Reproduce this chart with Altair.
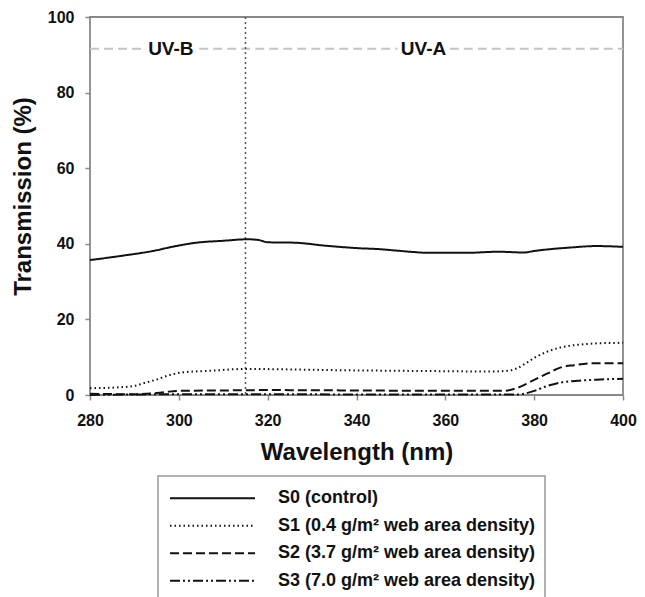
import altair as alt
import pandas as pd

series_names = [
    "S0 (control)",
    "S1 (0.4 g/m² web area density)",
    "S2 (3.7 g/m² web area density)",
    "S3 (7.0 g/m² web area density)",
]

wl_s0 = [280, 287, 294.6, 298.5, 304, 310, 315.5, 318, 320, 326, 333, 341, 345, 349, 357, 364.5, 372, 377.7, 380, 388, 394, 400]
t_s0 = [35.7, 36.8, 38.2, 39.2, 40.3, 40.8, 41.2, 41.0, 40.4, 40.3, 39.5, 38.8, 38.6, 38.2, 37.6, 37.6, 37.9, 37.7, 38.1, 39.0, 39.4, 39.2]

wl_s1 = [280, 286, 290, 292, 295, 298, 301, 307, 315, 323, 340, 350, 360, 370, 374, 376, 378, 380, 383, 386, 390, 395, 400]
t_s1 = [1.8, 2.0, 2.4, 3.1, 4.1, 5.3, 6.0, 6.4, 6.9, 6.8, 6.5, 6.4, 6.3, 6.2, 6.4, 7.0, 8.3, 9.8, 11.5, 12.6, 13.3, 13.7, 13.8]

wl_s2 = [280, 290, 294, 297, 300, 310, 320, 340, 360, 373, 376, 378, 380, 383, 386, 389, 393, 400]
t_s2 = [0.3, 0.2, 0.4, 0.8, 1.1, 1.2, 1.3, 1.2, 1.1, 1.1, 1.8, 2.8, 4.0, 5.7, 7.3, 7.9, 8.4, 8.4]

wl_s3 = [280, 300, 320, 350, 376, 378, 380, 383, 386, 390, 395, 400]
t_s3 = [0.0, 0.2, 0.2, 0.1, 0.1, 0.4, 1.1, 2.4, 3.3, 3.8, 4.1, 4.3]

region_labels = ["UV-B", "UV-A"]
region_label_wl = [298.2, 355.1]
guide_level = 91.6
guide_start = [280, 304.6, 361.0]
guide_end = [291.7, 349.2, 400]
boundary_wl = [315]

x_ticks = [280, 300, 320, 340, 360, 380, 400]
y_ticks = [0, 20, 40, 60, 80, 100]

FONT = "Liberation Sans"

rows = []
for name, wl, tr in zip(series_names, [wl_s0, wl_s1, wl_s2, wl_s3], [t_s0, t_s1, t_s2, t_s3]):
    for w, t in zip(wl, tr):
        rows.append({"series": name, "wl": w, "t": t})
df = pd.DataFrame(rows)

guide_df = pd.DataFrame({"x": guide_start, "x2": guide_end, "y": [guide_level] * len(guide_start)})
label_df = pd.DataFrame({"x": region_label_wl, "y": [guide_level] * 2, "label": region_labels})
boundary_df = pd.DataFrame({"x": boundary_wl})

xscale = alt.Scale(domain=[280, 400], nice=False, zero=False)
yscale = alt.Scale(domain=[0, 100], nice=False)

x_axis = alt.Axis(
    values=x_ticks, format="d", grid=False, domain=False, labelFlush=False,
    labelFont=FONT, labelFontSize=16, labelFontWeight="bold", labelColor="#111",
    tickSize=5, tickColor="#888", tickWidth=1.5, labelPadding=12,
    title="Wavelength (nm)", titleFont=FONT, titleFontSize=24, titleFontWeight="bold",
    titleColor="#111", titleY=57, titleBaseline="middle",
)
y_axis = alt.Axis(
    values=y_ticks, format="d", grid=False, domain=False, labelFlush=False,
    labelFont=FONT, labelFontSize=16, labelFontWeight="bold", labelColor="#111",
    tickSize=5, tickColor="#888", tickWidth=1.5, labelPadding=11,
    title="Transmission (%)", titleFont=FONT, titleFontSize=24, titleFontWeight="bold",
    titleColor="#111", titleX=-67, titleY=179, titleAngle=270,
    titleBaseline="middle", titleAlign="center",
)

guides = alt.Chart(guide_df).mark_rule(color="#c4c4c4", strokeWidth=2, strokeDash=[9, 5]).encode(
    x=alt.X("x:Q", scale=xscale, axis=x_axis),
    x2="x2:Q",
    y=alt.Y("y:Q", scale=yscale, axis=y_axis),
)

labels = alt.Chart(label_df).mark_text(
    font=FONT, fontSize=19, fontWeight="bold", color="#111", align="center", baseline="middle"
).encode(x="x:Q", y="y:Q", text="label:N")

boundary = alt.Chart(boundary_df).mark_rule(color="#555", strokeWidth=1.5, strokeDash=[2, 3]).encode(
    x="x:Q"
)

lines = alt.Chart(df).mark_line(color="#111", strokeWidth=2, interpolate="monotone").encode(
    x="wl:Q",
    y="t:Q",
    detail="series:N",
    strokeDash=alt.StrokeDash(
        "series:N",
        scale=alt.Scale(
            domain=series_names,
            range=[[1, 0], [1.5, 3], [9, 4], [10, 3, 2, 3, 2, 3]],
        ),
        sort=series_names,
        legend=alt.Legend(
            title=None, orient="none", legendX=68, legendY=459,
            symbolType="stroke", symbolSize=7225, symbolStrokeWidth=2,
            symbolStrokeColor="#111", symbolOffset=2,
            labelFont=FONT, labelFontSize=18, labelFontWeight="bold", labelColor="#111",
            labelOffset=22, labelLimit=400,
            clipHeight=26.5, rowPadding=0.5, padding=9,
            strokeColor="#999", fillColor="white",
        ),
    ),
)

chart = alt.layer(guides, boundary, lines, labels).properties(
    width=533, height=378,
    padding={"left": 82, "top": 9, "right": 14, "bottom": 210},
    autosize="none",
).configure_view(stroke="#888", strokeWidth=1.8).configure_legend(strokeWidth=1.5)

chart.save("out.html", embed_options={"renderer": "svg", "actions": False})
